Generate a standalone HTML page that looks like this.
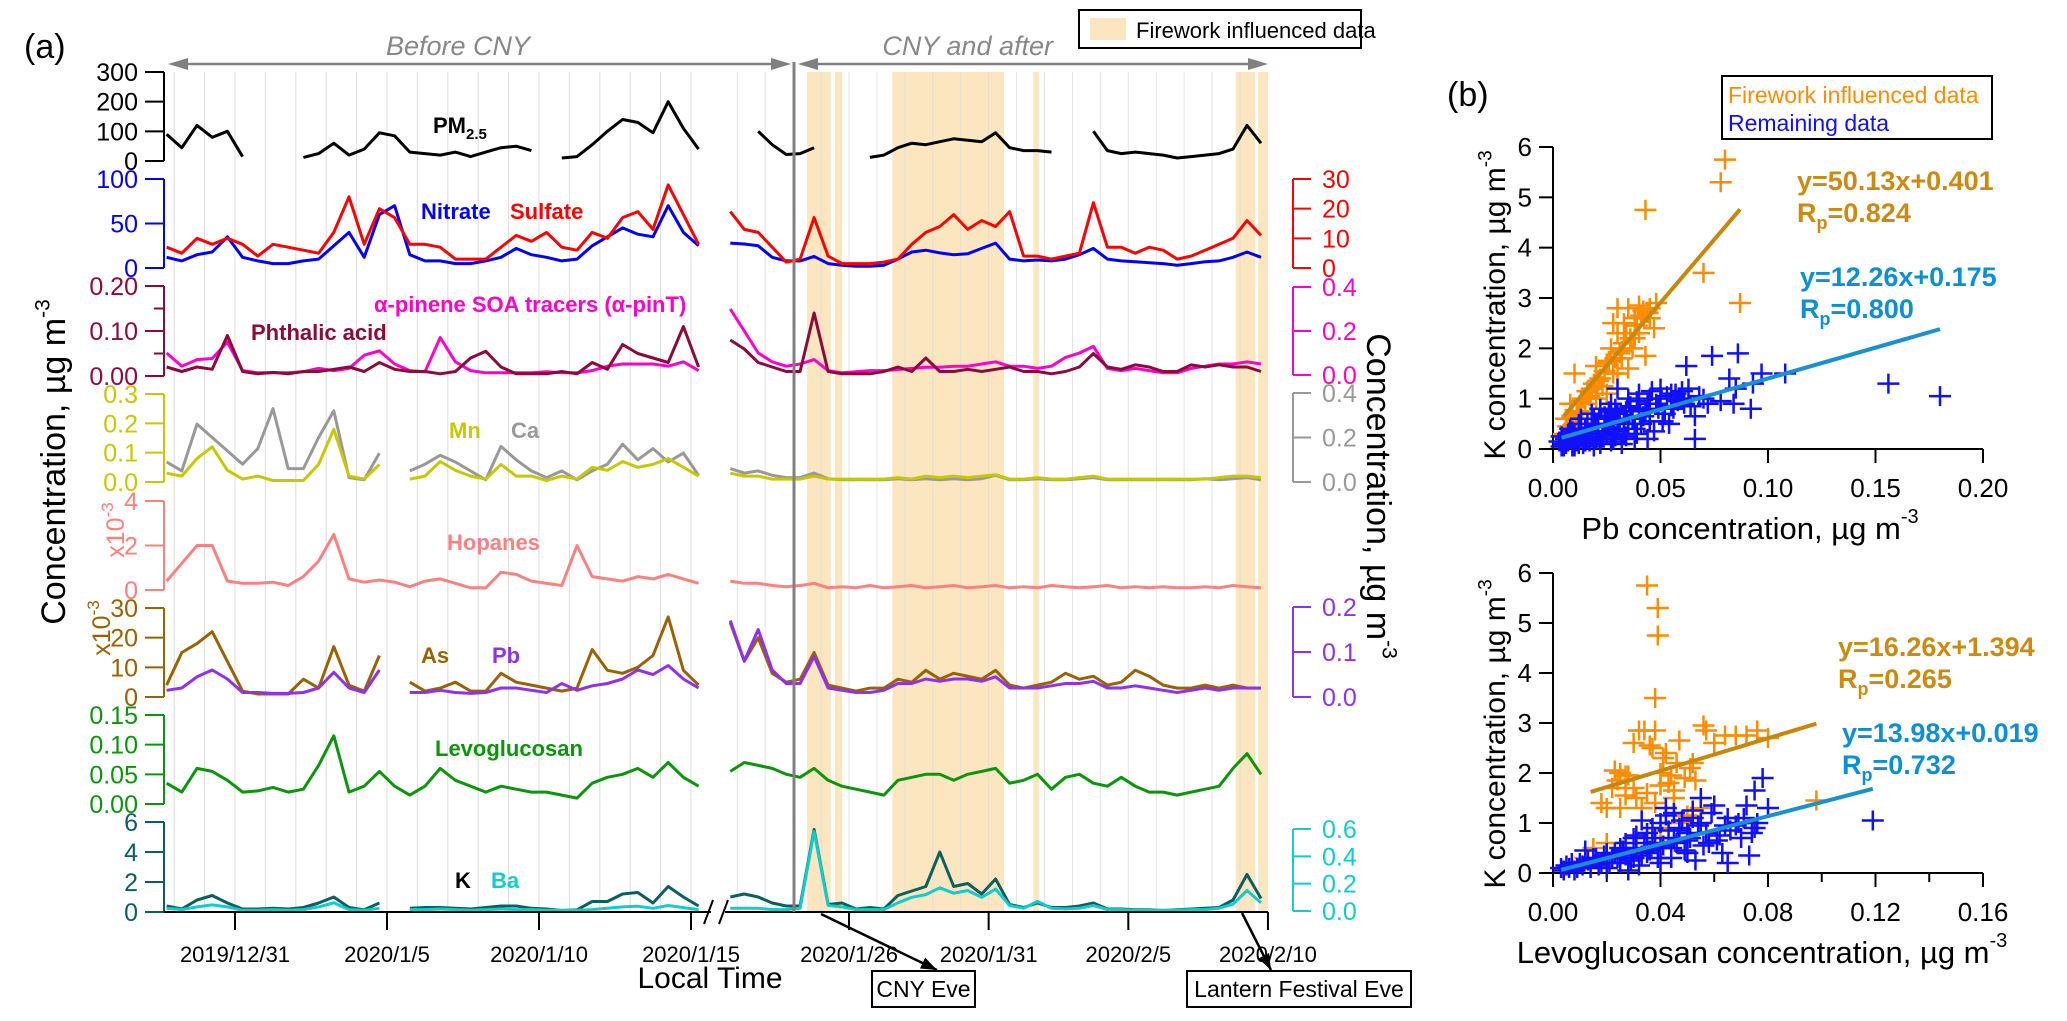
<!DOCTYPE html>
<html><head><meta charset="utf-8">
<style>
html,body{margin:0;padding:0;background:#fff;}
svg{display:block;font-family:"Liberation Sans",Arial,sans-serif;}
</style></head>
<body>
<svg id="chart" width="2067" height="1021" viewBox="0 0 2067 1021" xmlns="http://www.w3.org/2000/svg">
<rect x="0" y="0" width="2067" height="1021" fill="#fff"/>
<g id="bands"></g>
<g id="grid"></g>
<g id="series"></g>
<g id="axes"></g>
<g id="scatter"></g>
<g id="labels"></g>
</svg>
<script>
// ---------- time axis (days since 2019/12/31) ----------
const timesLeft = [-2.25,-1.75,-1.25,-0.75,-0.25,0.25,0.75,1.25,1.75,2.25,2.75,3.25,3.75,4.25,4.75,5.25,5.75,6.25,6.75,7.25,7.75,8.25,8.75,9.25,9.75,10.25,10.75,11.25,11.75,12.25,12.75,13.25,13.75,14.25,14.75,15.25];
const timesRight = [21.75,22.25,22.75,23.25,23.75,24.25,24.75,25.25,25.75,26.25,26.75,27.25,27.75,28.25,28.75,29.25,29.75,30.25,30.75,31.25,31.75,32.25,32.75,33.25,33.75,34.25,34.75,35.25,35.75,36.25,36.75,37.25,37.75,38.25,38.75,39.25,39.75,40.25,40.75];
const tickDays = [0,5,10,15,26,31,36,41];
const tickDates = ["2019/12/31","2020/1/5","2020/1/10","2020/1/15","2020/1/26","2020/1/31","2020/2/5","2020/2/10"];
const bandStarts = [24.5,25.5,27.55,32.6,39.85,40.65];
const bandEnds = [25.35,25.75,31.55,32.8,40.55,41];

// ---------- series values (left segment then right segment) ----------
const pm25 = [90,45,120,80,100,15,null,12,null,12,25,60,20,40,95,85,30,25,20,30,15,30,45,50,35,null,10,15,55,100,140,130,95,200,110,40,
 null,null,100,55,22,25,45,null,10,null,12,20,45,60,55,65,75,70,65,95,45,35,35,30,null,null,100,35,25,30,25,20,10,15,20,25,40,120,60];
const nitrate = [12,8,15,18,35,12,8,5,5,8,10,25,40,12,60,70,15,8,8,5,5,8,12,22,15,12,8,10,25,35,45,38,35,70,40,25,
 28,27,25,12,8,8,13,5,3,2,2,3,10,18,20,17,15,16,22,28,10,8,9,8,10,15,22,10,8,7,6,5,3,5,7,8,12,18,12];
const sulfate = [7,5,10,8,10,8,4,8,7,6,5,12,24,8,20,17,8,8,7,3,3,3,7,11,9,12,7,6,12,10,17,19,13,28,18,8,
 19,13,12,7,2,3,17,4,1.5,1.5,1.5,2,3,8,12,14,18,13,16,14,19,4,4,3,4,5,22,7,7,5,7,6,3,4,6,8,10,16,11];
const phthalic = [0.02,0.01,0.02,0.015,0.09,0.01,0.005,0.008,0.005,0.01,0.01,0.015,0.02,0.01,0.03,0.015,0.01,0.01,0.005,0.01,0.04,0.055,0.02,0.005,0.005,0.005,0.01,0.005,0.03,0.015,0.07,0.05,0.04,0.03,0.11,0.02,
 0.08,0.06,0.03,0.02,0.01,0.01,0.14,0.01,0.005,0.005,0.005,0.01,0.02,0.01,0.04,0.01,0.01,0.015,0.01,0.015,0.02,0.01,0.01,0.005,0.01,0.02,0.05,0.02,0.015,0.025,0.02,0.01,0.01,0.025,0.02,0.025,0.02,0.02,0.01];
const apinT = [0.1,0.04,0.07,0.075,0.15,0.02,0.01,0.01,0.01,0.015,0.03,0.02,0.03,0.09,0.11,0.05,0.02,0.015,0.17,0.06,0.02,0.01,0.01,0.01,0.01,0.015,0.01,0.01,0.02,0.04,0.05,0.05,0.05,0.04,0.06,0.02,
 0.3,0.2,0.1,0.06,0.04,0.05,0.07,0.02,0.01,0.015,0.02,0.02,0.025,0.03,0.035,0.035,0.04,0.04,0.05,0.06,0.04,0.04,0.03,0.04,0.08,0.1,0.13,0.03,0.02,0.03,0.02,0.01,0.01,0.03,0.04,0.05,0.05,0.06,0.05];
const mn = [0.03,0.02,0.08,0.12,0.04,0.01,0.02,0.005,0.005,0.005,0.06,0.18,0.02,0.01,0.06,null,0.01,0.02,0.07,0.04,0.02,0.01,0.06,0.02,0.02,0.005,0.02,0.01,0.05,0.04,0.07,0.05,0.06,0.08,0.05,0.02,
 0.03,0.02,0.02,0.01,0.01,0.01,0.02,0.01,0.01,0.01,0.01,0.01,0.015,0.01,0.02,0.015,0.02,0.015,0.02,0.025,0.01,0.01,0.015,0.01,0.01,0.015,0.02,0.01,0.01,0.01,0.01,0.01,0.01,0.01,0.01,0.015,0.02,0.02,0.015];
const ca = [0.09,0.05,0.26,0.2,0.14,0.08,0.15,0.33,0.06,0.06,0.2,0.32,0.02,0.01,0.13,null,0.05,0.08,0.12,0.09,0.05,0.01,0.16,0.1,0.05,0.02,0.05,0.01,0.05,0.08,0.17,0.1,0.15,0.09,0.13,0.03,
 0.06,0.04,0.05,0.03,0.02,0.02,0.04,0.015,0.01,0.01,0.01,0.01,0.015,0.01,0.015,0.01,0.015,0.01,0.015,0.03,0.01,0.01,0.015,0.01,0.01,0.015,0.02,0.01,0.01,0.01,0.01,0.01,0.01,0.01,0.015,0.01,0.015,0.02,0.01];
const hopanes = [0.4,1.2,2.0,2.0,0.4,0.3,0.3,0.35,0.2,0.6,1.3,2.5,0.5,0.35,0.45,0.35,0.15,0.4,0.5,0.3,0.1,0.1,0.8,0.7,0.4,0.3,0.2,2.0,0.6,0.5,0.4,0.6,0.5,0.7,0.5,0.3,
 0.4,0.3,0.3,0.2,0.15,0.2,0.3,0.1,0.15,0.1,0.2,0.1,0.15,0.2,0.1,0.15,0.2,0.1,0.15,0.2,0.1,0.15,0.1,0.2,0.15,0.1,0.15,0.2,0.1,0.15,0.1,0.15,0.1,0.1,0.15,0.1,0.2,0.15,0.1];
const arsenic = [4,15,18,22,12,2,1,1,1,6,3,17,4,2,14,null,5,2,3,5,2,2,8,5,4,3,2,3,16,9,8,10,14,27,9,4,
 25,12,20,8,5,6,15,4,3,2,3,3,6,5,9,6,8,7,6,9,4,3,4,5,8,6,7,4,5,9,7,4,3,3,4,3,4,3,3];
const lead = [0.015,0.02,0.045,0.06,0.04,0.01,0.01,0.008,0.008,0.01,0.02,0.055,0.02,0.01,0.06,null,0.01,0.01,0.015,0.01,0.008,0.01,0.02,0.02,0.015,0.01,0.03,0.015,0.025,0.03,0.04,0.06,0.05,0.07,0.04,0.02,
 0.17,0.08,0.15,0.06,0.03,0.03,0.09,0.02,0.015,0.01,0.01,0.015,0.03,0.03,0.04,0.035,0.04,0.04,0.035,0.045,0.02,0.02,0.02,0.025,0.03,0.03,0.035,0.02,0.02,0.025,0.02,0.015,0.01,0.015,0.02,0.015,0.02,0.02,0.02];
const levo = [0.035,0.02,0.06,0.055,0.04,0.02,0.022,0.028,0.02,0.025,0.065,0.115,0.02,0.03,0.055,0.03,0.015,0.03,0.06,0.04,0.03,0.02,0.03,0.025,0.02,0.02,0.015,0.01,0.035,0.045,0.05,0.06,0.045,0.07,0.045,0.03,
 0.055,0.07,0.065,0.06,0.05,0.045,0.06,0.04,0.03,0.025,0.02,0.015,0.04,0.045,0.05,0.05,0.04,0.05,0.055,0.06,0.035,0.04,0.05,0.025,0.045,0.05,0.035,0.03,0.045,0.03,0.02,0.02,0.015,0.02,0.025,0.03,0.06,0.085,0.05];
const potassium = [0.4,0.2,0.8,1.1,0.6,0.2,0.2,0.25,0.2,0.3,0.6,1.0,0.3,0.15,0.6,null,0.25,0.3,0.3,0.25,0.2,0.3,0.4,0.4,0.25,0.2,0.1,0.15,0.7,0.7,1.2,1.3,0.6,1.7,1.0,0.4,
 1.0,1.2,1.0,0.6,0.4,0.4,5.5,0.5,0.6,0.2,0.3,0.2,1.1,1.4,1.7,4.0,1.7,1.9,1.2,2.2,0.5,0.3,0.6,0.3,0.3,0.4,0.6,0.2,0.2,0.15,0.15,0.1,0.15,0.2,0.25,0.3,0.8,2.5,0.9];
const barium = [0.02,0.01,0.03,0.045,0.03,0.005,0.005,0.01,0.005,0.01,0.03,0.06,0.01,0.005,0.02,null,0.01,0.01,0.015,0.01,0.005,0.01,0.015,0.01,0.01,0.005,0.005,0.005,0.01,0.02,0.03,0.035,0.02,0.04,0.025,0.01,
 0.02,0.02,0.02,0.01,0.01,0.02,0.58,0.04,0.03,0.01,0.01,0.01,0.06,0.1,0.12,0.17,0.13,0.15,0.1,0.16,0.04,0.02,0.07,0.02,0.015,0.02,0.04,0.01,0.01,0.005,0.005,0.005,0.005,0.01,0.01,0.02,0.05,0.15,0.06];

// ---------- scatter data (panel b) ----------
const pbFireX = [0.080,0.078,0.043,0.070,0.087,0.048,0.045,0.042,0.040,0.035,0.030,0.038,0.033,0.028,0.047,0.040,0.030,0.033,0.027,0.037,0.043,0.032,0.025,0.020,0.035,0.028,0.022,0.010,0.018,0.025,0.030,0.015,0.008,0.012,0.006,0.010,0.020,0.005,0.038,0.045,
 0.036,0.031,0.029,0.024,0.019,0.016,0.013,0.021,0.026,0.034,0.041,0.044,0.039,0.023,0.017,0.011,0.007,0.009,0.014,0.032];
const pbFireK = [5.75,5.3,4.75,3.5,2.9,2.9,2.8,2.75,2.85,2.8,2.8,2.6,2.5,2.5,2.4,2.3,2.3,2.1,2.0,2.0,1.85,1.8,1.7,1.65,1.6,1.5,1.4,1.5,1.2,1.1,1.5,0.9,0.9,0.75,0.6,0.5,1.0,0.3,2.2,2.6,
 2.2,1.9,1.8,1.55,1.3,1.15,0.95,1.35,1.75,2.3,2.65,2.7,2.45,1.25,1.05,0.7,0.45,0.65,1.0,1.95];
const pbRestX = [0.180,0.156,0.108,0.097,0.093,0.086,0.074,0.062,0.082,0.085,0.092,0.084,0.078,0.066,0.066,0.060,0.055,0.050,0.048,0.052,0.045,0.047,0.040,0.040,0.035,0.035,0.038,0.030,0.030,0.030,0.027,0.025,0.025,0.022,0.020,0.020,0.018,0.015,0.015,0.012,0.010,0.010,0.008,0.006,0.005,0.004,0.003,0.058,0.063,0.070,0.044,0.033,0.028,0.017,0.013,0.024,0.042,0.055,0.038,0.050,0.032,0.026,0.036,0.046,0.021,0.011,0.007,0.009,
 0.004,0.006,0.008,0.009,0.011,0.012,0.013,0.014,0.016,0.016,0.018,0.019,0.021,0.023,0.024,0.026,0.028,0.029,0.031,0.033,0.034,0.037,0.039,0.041,0.043,0.045,0.049,0.051,0.053,0.056,0.057,0.059,0.061,0.064,0.068,0.072,0.005,0.007,0.010,0.012,0.014,0.017,0.019,0.022,0.027,0.029,0.034,0.039,0.044,0.054];
const pbRestK = [1.05,1.3,1.5,1.5,1.3,1.9,1.85,1.65,1.4,1.2,0.8,0.9,0.95,0.65,0.2,1.15,1.1,1.0,0.9,0.7,0.55,0.35,0.8,1.1,1.0,0.5,0.2,1.2,0.7,0.4,0.9,0.6,0.3,0.8,0.5,0.2,0.7,0.4,0.15,0.5,0.3,0.1,0.4,0.2,0.1,0.05,0.15,0.95,1.2,1.0,0.9,0.6,0.2,0.3,0.6,0.45,0.65,0.85,0.4,1.2,0.1,0.75,0.85,1.15,0.35,0.2,0.3,0.05,
 0.25,0.1,0.2,0.35,0.15,0.3,0.4,0.25,0.2,0.5,0.35,0.6,0.45,0.25,0.65,0.5,0.35,0.8,0.55,0.3,0.75,0.6,0.95,0.5,0.75,1.0,0.8,0.55,1.05,0.8,1.1,1.0,0.9,0.85,1.05,0.9,0.05,0.15,0.05,0.1,0.1,0.15,0.05,0.1,0.15,0.25,0.25,0.3,0.2,0.5];
const lvFireX = [0.035,0.039,0.039,0.038,0.032,0.038,0.056,0.057,0.068,0.076,0.080,0.047,0.037,0.042,0.030,0.025,0.027,0.044,0.040,0.051,0.053,0.022,0.030,0.035,0.045,0.018,0.020,0.025,0.055,0.098,0.050,0.047,0.040,0.015,0.020,0.012,0.043,0.033,
 0.034,0.036,0.041,0.046,0.049,0.052,0.028,0.024,0.031,0.038,0.045,0.060,0.064,0.072,0.027,0.023,0.040];
const lvFireK = [5.75,5.3,4.75,3.5,2.85,2.85,2.95,2.85,2.75,2.85,2.7,2.65,2.5,2.4,2.6,2.0,1.95,1.95,2.0,2.1,1.85,1.7,1.7,1.6,1.5,1.4,1.3,1.3,1.3,1.45,1.15,1.0,0.9,0.5,0.6,0.3,1.8,1.3,
 2.85,2.55,2.3,2.2,1.9,2.2,1.95,1.85,1.5,1.4,1.65,2.6,2.75,2.75,1.55,2.05,1.75];
const lvRestX = [0.119,0.080,0.078,0.075,0.072,0.075,0.070,0.065,0.060,0.063,0.065,0.073,0.055,0.055,0.050,0.050,0.045,0.045,0.040,0.040,0.040,0.035,0.035,0.030,0.030,0.028,0.025,0.025,0.020,0.020,0.015,0.012,0.010,0.008,0.005,0.003,0.042,0.058,0.068,0.048,0.037,0.032,0.018,0.022,0.027,0.053,0.044,0.062,
 0.004,0.006,0.007,0.009,0.011,0.013,0.014,0.016,0.017,0.019,0.021,0.023,0.024,0.026,0.029,0.031,0.033,0.034,0.036,0.038,0.039,0.041,0.043,0.046,0.047,0.049,0.051,0.052,0.054,0.057,0.059,0.061,0.064,0.066,0.069,0.071,0.074,0.076,0.033,0.037,0.042,0.047,0.052,0.056,0.027,0.031,0.044,0.050];
const lvRestK = [1.05,1.3,1.9,1.65,1.35,0.9,0.7,1.1,1.35,0.4,0.2,0.35,1.5,1.0,0.8,0.4,1.2,0.7,1.0,0.5,0.2,0.8,0.4,0.7,0.3,0.05,0.5,0.2,0.4,0.1,0.3,0.45,0.2,0.05,0.15,0.1,1.3,0.6,0.95,1.05,0.6,0.15,0.2,0.3,0.35,0.25,0.3,0.75,
 0.05,0.1,0.2,0.1,0.15,0.25,0.1,0.3,0.15,0.35,0.2,0.4,0.3,0.45,0.25,0.5,0.35,0.6,0.45,0.7,0.3,0.55,0.85,0.6,0.9,0.45,0.7,1.1,0.95,0.8,1.2,0.65,0.95,0.85,1.0,1.1,0.8,1.0,1.05,0.9,1.15,0.85,1.25,0.55,0.6,0.75,0.5,0.65];
const fitSlopes = [50.13,12.26,16.26,13.98];
const fitIntercepts = [0.401,0.175,1.394,0.019];
const fitRanges = [[0.005,0.087],[0.004,0.180],[0.014,0.098],[0.003,0.119]];

// ---------- helpers ----------
const NS = "http://www.w3.org/2000/svg";
const times = timesLeft.concat(timesRight);
function xDay(d){ return d < 20 ? 235 + 30.4*d : 849 + 27.93*(d-26); }
function mk(tag, attrs, parent){
  const el = document.createElementNS(NS, tag);
  for (const k in attrs) el.setAttribute(k, attrs[k]);
  parent.appendChild(el);
  return el;
}
function scale(y0, ytop, max){ return v => y0 - v/max*(y0-ytop); }
const gBands = document.getElementById('bands');
const gGrid = document.getElementById('grid');
const gSeries = document.getElementById('series');
const gAxes = document.getElementById('axes');
const gSc = document.getElementById('scatter');
const gLab = document.getElementById('labels');
const FONT = '"Liberation Sans", Arial, sans-serif';

// bands
bandStarts.forEach((s,i)=>{
  const r = mk('rect',{x:xDay(s),y:72,width:xDay(bandEnds[i])-xDay(s),height:840,fill:'#fce6c0'},gBands);
  
  
});
// gridlines
for (let d=-2; d<=15; d++){
  const l = mk('line',{x1:xDay(d),x2:xDay(d),y1:72,y2:912,stroke:'#dcdcdc','stroke-width':1},gGrid);
  
  
}
for (let d=22; d<=40; d++){
  const l = mk('line',{x1:xDay(d),x2:xDay(d),y1:72,y2:912,stroke:'#dcdcdc','stroke-width':1,'stroke-opacity':0.8},gGrid);
  
  
}

// series drawing
function drawSeries(vals, sc, color, name){
  let d = ''; let pen = false; let lastT = null;
  vals.forEach((v,i)=>{
    const t = times[i];
    if (v === null || v === undefined){ pen = false; lastT = t; return; }
    if (lastT !== null && t - lastT > 1) pen = false;
    d += (pen ? 'L' : 'M') + xDay(t).toFixed(1) + ' ' + sc(v).toFixed(1);
    pen = true; lastT = t;
  });
  const p = mk('path',{d:d,fill:'none',stroke:color,'stroke-width':3,'stroke-linejoin':'round'},gSeries);
  
  
}
const sPM = scale(161,72,300), sNO3 = scale(268,179,100), sSO4 = scale(268,179,30);
const sPh = scale(376,286,0.2), sAp = scale(375,287,0.4);
const sMn = scale(482,394,0.3), sCa = scale(482,393,0.4);
const sHop = scale(590,501,4);
const sAs = scale(697,608,30), sPb = scale(697,607,0.2);
const sLev = scale(804,715,0.15);
const sK = scale(912,822,6), sBa = scale(911,829,0.6);

const C = {pm:'#000000',no3:'#0000ff',so4:'#ff0000',ph:'#8c0a3c',ap:'#ff00cc',mn:'#c8c800',ca:'#999999',hop:'#ff8080',as:'#9a6200',pb:'#9030f0',lev:'#0a960a',k:'#0c5f5f',ba:'#10cccc'};

drawSeries(pm25, sPM, C.pm, 'pm25-line');
drawSeries(nitrate, sNO3, C.no3, 'nitrate-line');
drawSeries(sulfate, sSO4, C.so4, 'sulfate-line');
drawSeries(apinT, sAp, C.ap, 'apinT-line');
drawSeries(phthalic, sPh, C.ph, 'phthalic-acid-line');
drawSeries(ca, sCa, C.ca, 'ca-line');
drawSeries(mn, sMn, C.mn, 'mn-line');
drawSeries(hopanes, sHop, C.hop, 'hopanes-line');
drawSeries(arsenic, sAs, C.as, 'as-line');
drawSeries(lead, sPb, C.pb, 'pb-line');
drawSeries(levo, sLev, C.lev, 'levoglucosan-line');
drawSeries(potassium, sK, C.k, 'k-line');
drawSeries(barium, sBa, C.ba, 'ba-line');

// axes panel a
function txt(x,y,s,attrs,parent,name){
  const t = mk('text',Object.assign({x:x,y:y,'font-family':FONT},attrs),parent||gLab);
  t.textContent = s;
  
  
  return t;
}
function leftAxis(sc, ticks, labels, color, name, minors){
  const vals = ticks;
  const top = sc(vals[vals.length-1]), bot = sc(vals[0]);
  const ln = mk('line',{x1:164,x2:164,y1:top,y2:bot,stroke:color,'stroke-width':2},gAxes);
  
  
  vals.forEach((v,i)=>{
    mk('line',{x1:145,x2:164,y1:sc(v),y2:sc(v),stroke:color,'stroke-width':2},gAxes);
    txt(138, sc(v)+9, labels[i], {'font-size':25,'text-anchor':'end',fill:color}, gAxes, name+'-tick-label');
  });
  (minors||[]).forEach(v=>{ mk('line',{x1:154,x2:164,y1:sc(v),y2:sc(v),stroke:color,'stroke-width':2},gAxes); });
}
function rightAxis(sc, ticks, labels, color, name){
  const top = sc(ticks[ticks.length-1]), bot = sc(ticks[0]);
  const ln = mk('line',{x1:1293,x2:1293,y1:top,y2:bot,stroke:color,'stroke-width':2},gAxes);
  
  
  ticks.forEach((v,i)=>{
    mk('line',{x1:1293,x2:1311,y1:sc(v),y2:sc(v),stroke:color,'stroke-width':2},gAxes);
    txt(1322, sc(v)+9, labels[i], {'font-size':25,fill:color}, gAxes, name+'-tick-label');
  });
}
leftAxis(sPM,[0,100,200,300],['0','100','200','300'],C.pm,'pm25');
leftAxis(sNO3,[0,50,100],['0','50','100'],C.no3,'nitrate');
leftAxis(sPh,[0,0.1,0.2],['0.00','0.10','0.20'],C.ph,'phthalic',[0.05,0.15]);
leftAxis(sMn,[0,0.1,0.2,0.3],['0.0','0.1','0.2','0.3'],C.mn,'mn');
leftAxis(sHop,[0,2,4],['0','2','4'],C.hop,'hopanes');
leftAxis(sAs,[0,10,20,30],['0','10','20','30'],C.as,'as');
leftAxis(sLev,[0,0.05,0.1,0.15],['0.00','0.05','0.10','0.15'],C.lev,'levoglucosan');
leftAxis(sK,[0,2,4,6],['0','2','4','6'],C.k,'k');
rightAxis(sSO4,[0,10,20,30],['0','10','20','30'],C.so4,'sulfate');
rightAxis(sAp,[0,0.2,0.4],['0.0','0.2','0.4'],C.ap,'apinT');
rightAxis(sCa,[0,0.2,0.4],['0.0','0.2','0.4'],C.ca,'ca');
rightAxis(sPb,[0,0.1,0.2],['0.0','0.1','0.2'],C.pb,'pb');
rightAxis(sBa,[0,0.2,0.4,0.6],['0.0','0.2','0.4','0.6'],C.ba,'ba');

// x axis
mk('line',{x1:164,x2:711,y1:912,y2:912,stroke:'#000','stroke-width':2},gAxes);
mk('line',{x1:725,x2:1268,y1:912,y2:912,stroke:'#000','stroke-width':2},gAxes);
mk('line',{x1:704,x2:713,y1:924,y2:900,stroke:'#000','stroke-width':2},gAxes);
mk('line',{x1:719,x2:728,y1:924,y2:900,stroke:'#000','stroke-width':2},gAxes);
tickDays.forEach((d,i)=>{
  mk('line',{x1:xDay(d),x2:xDay(d),y1:912,y2:930,stroke:'#000','stroke-width':2},gAxes);
  txt(xDay(d), 962, tickDates[i], {'font-size':22,'text-anchor':'middle',fill:'#000'}, gAxes, 'x-tick-label');
});
txt(710, 988, 'Local Time', {'font-size':30,'text-anchor':'middle'}, gLab, 'x-axis-title');

// CNY divider and header arrows
const dv = mk('line',{x1:794,x2:794,y1:62,y2:912,stroke:'#808080','stroke-width':3},gAxes);


function arrowLine(x1,x2,y){
  mk('line',{x1:x1+10,x2:x2-10,y1:y,y2:y,stroke:'#808080','stroke-width':2.5},gAxes);
  mk('polygon',{points:`${x1},${y} ${x1+20},${y-6} ${x1+20},${y+6}`,fill:'#808080'},gAxes);
  mk('polygon',{points:`${x2},${y} ${x2-20},${y-6} ${x2-20},${y+6}`,fill:'#808080'},gAxes);
}
arrowLine(168,791,64);
arrowLine(798,1268,64);
txt(458,55,'Before CNY',{'font-size':27,'font-style':'italic',fill:'#888','text-anchor':'middle'},gLab,'before-cny-label');
txt(1053,55,'CNY and after',{'font-size':27,'font-style':'italic',fill:'#888','text-anchor':'end'},gLab,'cny-after-label');

// legend box (a)
const lg = mk('g',{},gLab);


mk('rect',{x:1079,y:10,width:282,height:38,fill:'#fff',stroke:'#000','stroke-width':2},lg);
mk('rect',{x:1090,y:18,width:36,height:22,fill:'#fce6c0'},lg);
txt(1136,38,'Firework influenced data',{'font-size':22},lg,'legend-entry-firework');

txt(24,58,'(a)',{'font-size':34},gLab,'panel-a-label');
txt(1447,106,'(b)',{'font-size':34},gLab,'panel-b-label');

// series labels
function slab(x,y,s,color,name){ return txt(x,y+8,s,{'font-size':22,'font-weight':'bold',fill:color},gLab,name); }
const pml = slab(433,125,'PM',C.pm,'pm25-label');
const sub = document.createElementNS(NS,'tspan'); sub.setAttribute('font-size','15'); sub.setAttribute('dy','6'); sub.textContent='2.5'; pml.appendChild(sub);
slab(421,211,'Nitrate',C.no3,'nitrate-label');
slab(510,211,'Sulfate',C.so4,'sulfate-label');
slab(374,304,'α-pinene SOA tracers (α-pinT)',C.ap,'apinT-label');
slab(251,332,'Phthalic acid',C.ph,'phthalic-label');
slab(449,430,'Mn',C.mn,'mn-label');
slab(511,430,'Ca',C.ca,'ca-label');
slab(447,542,'Hopanes',C.hop,'hopanes-label');
slab(421,655,'As',C.as,'as-label');
slab(492,655,'Pb',C.pb,'pb-label');
slab(435,748,'Levoglucosan',C.lev,'levoglucosan-label');
slab(455,880,'K','#000','k-label');
slab(491,880,'Ba',C.ba,'ba-label');

// x10^-3 labels
function rotLabel(x,y,color,name){
  const t = txt(0,0,'x10',{'font-size':25,fill:color,transform:`translate(${x},${y}) rotate(-90)`,'text-anchor':'middle'},gLab,name);
  const s = document.createElementNS(NS,'tspan'); s.setAttribute('font-size','17'); s.setAttribute('dy','-11'); s.textContent='-3'; t.appendChild(s);
}
rotLabel(124,530,C.hop,'hopanes-multiplier');
rotLabel(110,628,C.as,'as-multiplier');

// axis titles panel a
function titleRot(x,y,rot,s,size,name){
  const t = txt(0,0,s,{'font-size':size,transform:`translate(${x},${y}) rotate(${rot})`,'text-anchor':'middle'},gLab,name);
  const sp = document.createElementNS(NS,'tspan'); sp.setAttribute('font-size',Math.round(size*0.62)); sp.setAttribute('dy',-size*0.45); sp.textContent='-3'; t.appendChild(sp);
}
titleRot(65,462,-90,'Concentration, µg m',34,'left-y-axis-title');
titleRot(1367,496,90,'Concentration, µg m',34,'right-y-axis-title');

// annotation boxes
function annot(x1,y1,x2,y2,bx,bw,s,name){
  mk('line',{x1:x1,y1:y1,x2:x2,y2:y2,stroke:'#000','stroke-width':2.5},gLab);
  const ang = Math.atan2(y2-y1,x2-x1);
  const hx = x2, hy = y2, L=16, W=6;
  const p1 = [hx - L*Math.cos(ang) + W*Math.sin(ang), hy - L*Math.sin(ang) - W*Math.cos(ang)];
  const p2 = [hx - L*Math.cos(ang) - W*Math.sin(ang), hy - L*Math.sin(ang) + W*Math.cos(ang)];
  mk('polygon',{points:`${hx},${hy} ${p1[0]},${p1[1]} ${p2[0]},${p2[1]}`,fill:'#000'},gLab);
  const r = mk('rect',{x:bx,y:971,width:bw,height:36,fill:'#fff',stroke:'#000','stroke-width':2},gLab);
  
  
  txt(bx+bw/2, 997, s, {'font-size':23,'text-anchor':'middle'}, gLab, name);
}
annot(821,914,937,970,872,103,'CNY Eve','cny-eve-annotation');
annot(1242,913,1271,970,1187,224,'Lantern Festival Eve','lantern-eve-annotation');

// ---------- panel b scatter ----------
function scatterPanel(cfg){
  const sx = v => 1553 + v/cfg.xmax*(1983-1553);
  const sy = v => cfg.y0 - v/6*(cfg.y0-cfg.y6);
  mk('line',{x1:1553,x2:1553,y1:cfg.y6,y2:cfg.y0+14,stroke:'#000','stroke-width':2},gSc);
  mk('line',{x1:1539,x2:1983,y1:cfg.y0,y2:cfg.y0,stroke:'#000','stroke-width':2},gSc);
  for (let k=0;k<=6;k++){
    mk('line',{x1:1539,x2:1553,y1:sy(k),y2:sy(k),stroke:'#000','stroke-width':2},gSc);
    txt(1532, sy(k)+9, String(k), {'font-size':26,'text-anchor':'end'}, gSc, cfg.name+'-y-tick-label');
  }
  cfg.xticks.forEach((v,i)=>{
    const major = cfg.xlabels[i] !== '';
    mk('line',{x1:sx(v),x2:sx(v),y1:cfg.y0,y2:cfg.y0+(major?14:9),stroke:'#000','stroke-width':2},gSc);
    if (major) txt(sx(v), cfg.y0+48, cfg.xlabels[i], {'font-size':26,'text-anchor':'middle'}, gSc, cfg.name+'-x-tick-label');
  });
  function plus(x,y,color,name){
    const p = mk('path',{d:`M${x-11} ${y}H${x+11}M${x} ${y-10}V${y+10}`,stroke:color,'stroke-width':2.5,fill:'none'},gSc);
    
    
  }
  cfg.fx.forEach((v,i)=>plus(sx(v),sy(cfg.fk[i]),'#ff8c00',cfg.name+'-firework-point'));
  cfg.rx.forEach((v,i)=>plus(sx(v),sy(cfg.rk[i]),'#1010ff',cfg.name+'-remaining-point'));
  cfg.fits.forEach((fi,j)=>{
    const r = fitRanges[fi];
    const l = mk('line',{x1:sx(r[0]),y1:sy(fitSlopes[fi]*r[0]+fitIntercepts[fi]),x2:sx(r[1]),y2:sy(fitSlopes[fi]*r[1]+fitIntercepts[fi]),stroke:j===0?'#c8860a':'#1a90d0','stroke-width':4},gSc);
    
    
  });
  titleRot(1505, cfg.ytitle, -90, 'K concentration, µg m', 30, cfg.name+'-y-axis-title');
  const t = txt(cfg.xtitleX, cfg.y0+90, cfg.xtitle, {'font-size':31,'text-anchor':'middle'}, gSc, cfg.name+'-x-axis-title');
  const sp = document.createElementNS(NS,'tspan'); sp.setAttribute('font-size','20'); sp.setAttribute('dy','-16'); sp.textContent='-3'; t.appendChild(sp);
  cfg.eqs.forEach(e=>{
    txt(e.x, e.y+10, e.s, {'font-size':27,'font-weight':'bold',fill:e.c}, gSc, 'fit-equation');
    const r = txt(e.x, e.y+42, 'R', {'font-size':27,'font-weight':'bold',fill:e.c}, gSc, 'fit-correlation');
    const s1 = document.createElementNS(NS,'tspan'); s1.setAttribute('font-size','18'); s1.setAttribute('dy','7'); s1.textContent='p'; r.appendChild(s1);
    const s2 = document.createElementNS(NS,'tspan'); s2.setAttribute('dy','-7'); s2.textContent=e.r; r.appendChild(s2);
  });
}
scatterPanel({name:'k-vs-pb', y0:449, y6:147, xmax:0.20,
  xticks:[0,0.05,0.10,0.15,0.20], xlabels:['0.00','0.05','0.10','0.15','0.20'],
  fx:pbFireX, fk:pbFireK, rx:pbRestX, rk:pbRestK, fits:[0,1],
  ytitle:305, xtitle:'Pb concentration, µg m', xtitleX:1750,
  eqs:[{x:1797,y:180,s:'y=50.13x+0.401',r:'=0.824',c:'#cc8a10'},{x:1800,y:276,s:'y=12.26x+0.175',r:'=0.800',c:'#0b8fd6'}]});
scatterPanel({name:'k-vs-levoglucosan', y0:873, y6:573, xmax:0.16,
  xticks:[0,0.02,0.04,0.06,0.08,0.10,0.12,0.14,0.16], xlabels:['0.00','','0.04','','0.08','','0.12','','0.16'],
  fx:lvFireX, fk:lvFireK, rx:lvRestX, rk:lvRestK, fits:[2,3],
  ytitle:734, xtitle:'Levoglucosan concentration, µg m', xtitleX:1762,
  eqs:[{x:1838,y:646,s:'y=16.26x+1.394',r:'=0.265',c:'#cc8a10'},{x:1842,y:732,s:'y=13.98x+0.019',r:'=0.732',c:'#0b8fd6'}]});

// legend panel b
const lb = mk('g',{},gLab);


mk('rect',{x:1722,y:76,width:270,height:63,fill:'none',stroke:'#000','stroke-width':2},lb);
txt(1728,103,'Firework influenced data',{'font-size':23,fill:'#ff8c00'},lb,'legend-entry-firework-b');
txt(1728,131,'Remaining data',{'font-size':23,fill:'#1010ff'},lb,'legend-entry-remaining');
</script>
</body></html>
